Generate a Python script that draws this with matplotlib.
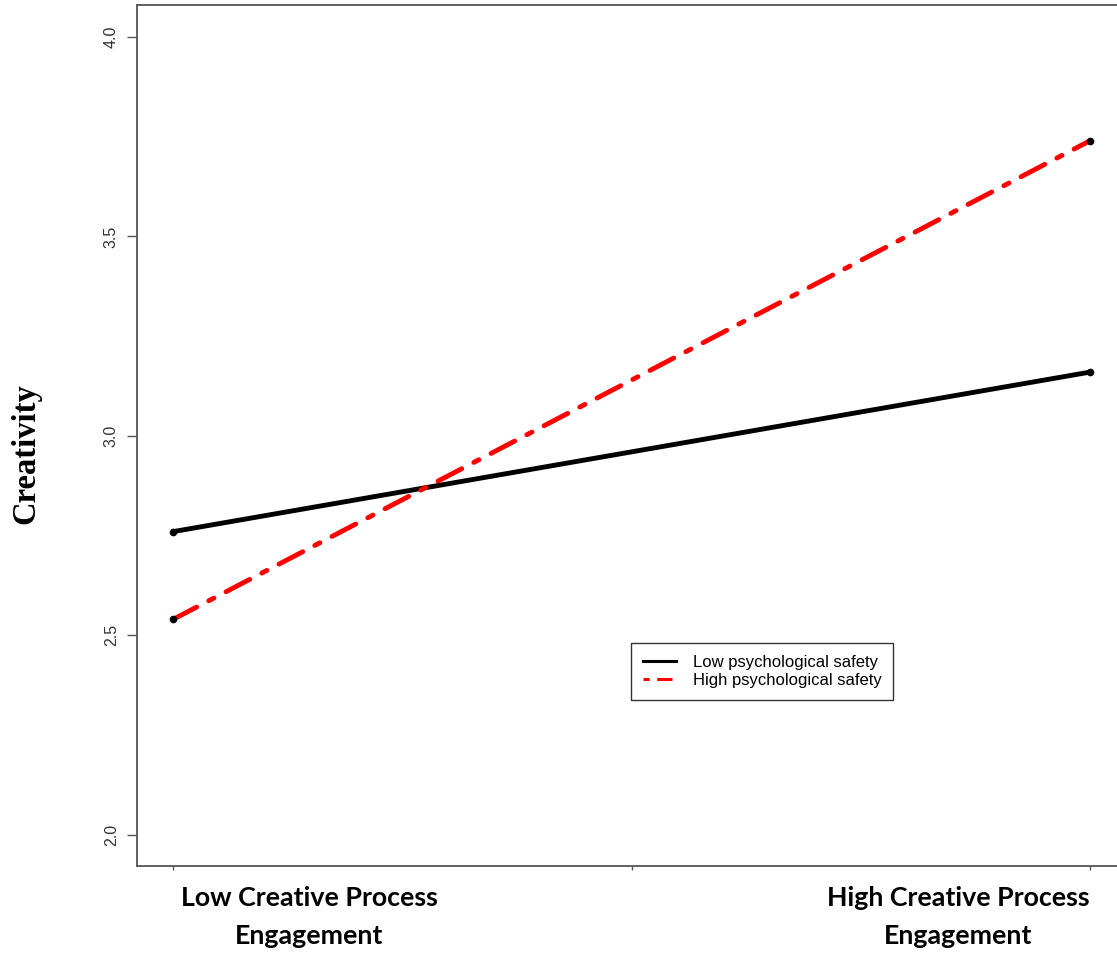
import matplotlib
matplotlib.use("Agg")
import matplotlib.pyplot as plt
from matplotlib.lines import Line2D

# simple slopes: creativity at low / high creative process engagement
engagement = [-1, 1]
low_safety = [2.76, 3.16]
high_safety = [2.54, 3.74]
series_names = ["Low psychological safety", "High psychological safety"]
y_ticks = [2.0, 2.5, 3.0, 3.5, 4.0]
x_labels = ["Low Creative Process\nEngagement", "High Creative Process\nEngagement"]

fig = plt.figure(figsize=(11.17, 9.57), dpi=100)
ax = fig.add_axes([137 / 1117, 91 / 957, 983 / 1117, 861 / 957])

red_style = (0, (5.5, 2.8, 1.2, 2.8))
ax.plot(engagement, low_safety, color="black", lw=3.5, solid_capstyle="round")
ax.plot(engagement, high_safety, color="red", lw=3.5, linestyle=red_style,
        dash_capstyle="round")
# end points
ax.plot(engagement, low_safety, "o", color="black", ms=4.5)
ax.plot(engagement, high_safety, "o", color="black", ms=4.5)

ax.set_xlim(-1.0785, 1.065)
ax.set_ylim(1.922, 4.080)

ax.set_yticks(y_ticks)
ax.set_yticklabels([f"{v:.1f}" for v in y_ticks], rotation=90, va="center",
                   fontsize=11.5, family="Liberation Sans", color="#333333")
ax.tick_params(axis="y", length=7, width=1, color="#555555", pad=6)
ax.set_xticks([-1, 0, 1])
ax.set_xticklabels([])
ax.tick_params(axis="x", length=3, width=1, color="#555555")
for s in ax.spines.values():
    s.set_color("#555555")
    s.set_linewidth(1.3)

fig.text(26 / 1117, 1 - 454 / 957, "Creativity", family="Liberation Serif",
         fontweight="bold", fontsize=23.5, rotation=90, ha="center",
         va="center")

for xc, lab in zip([309, 958], x_labels):
    fig.text(xc / 1117, 1 - 886 / 957, lab, ha="center", va="top",
             family="Lato", fontweight="bold", fontsize=19.3, linespacing=1.68)

handles = [
    Line2D([], [], color="black", lw=2.2),
    Line2D([], [], color="red", lw=2.2, linestyle=(0, (2, 2.5, 5, 2.5))),
]
leg = ax.legend(handles, series_names, loc="upper left",
                bbox_to_anchor=(0.5025, 0.259), borderaxespad=0,
                fancybox=False, framealpha=1, edgecolor="#333333",
                prop={"family": "Liberation Sans", "size": 12},
                handlelength=2.0, labelspacing=0.2, borderpad=0.7,
                handletextpad=1.0)
leg.get_frame().set_linewidth(1)

fig.savefig("out.png", dpi=100)
